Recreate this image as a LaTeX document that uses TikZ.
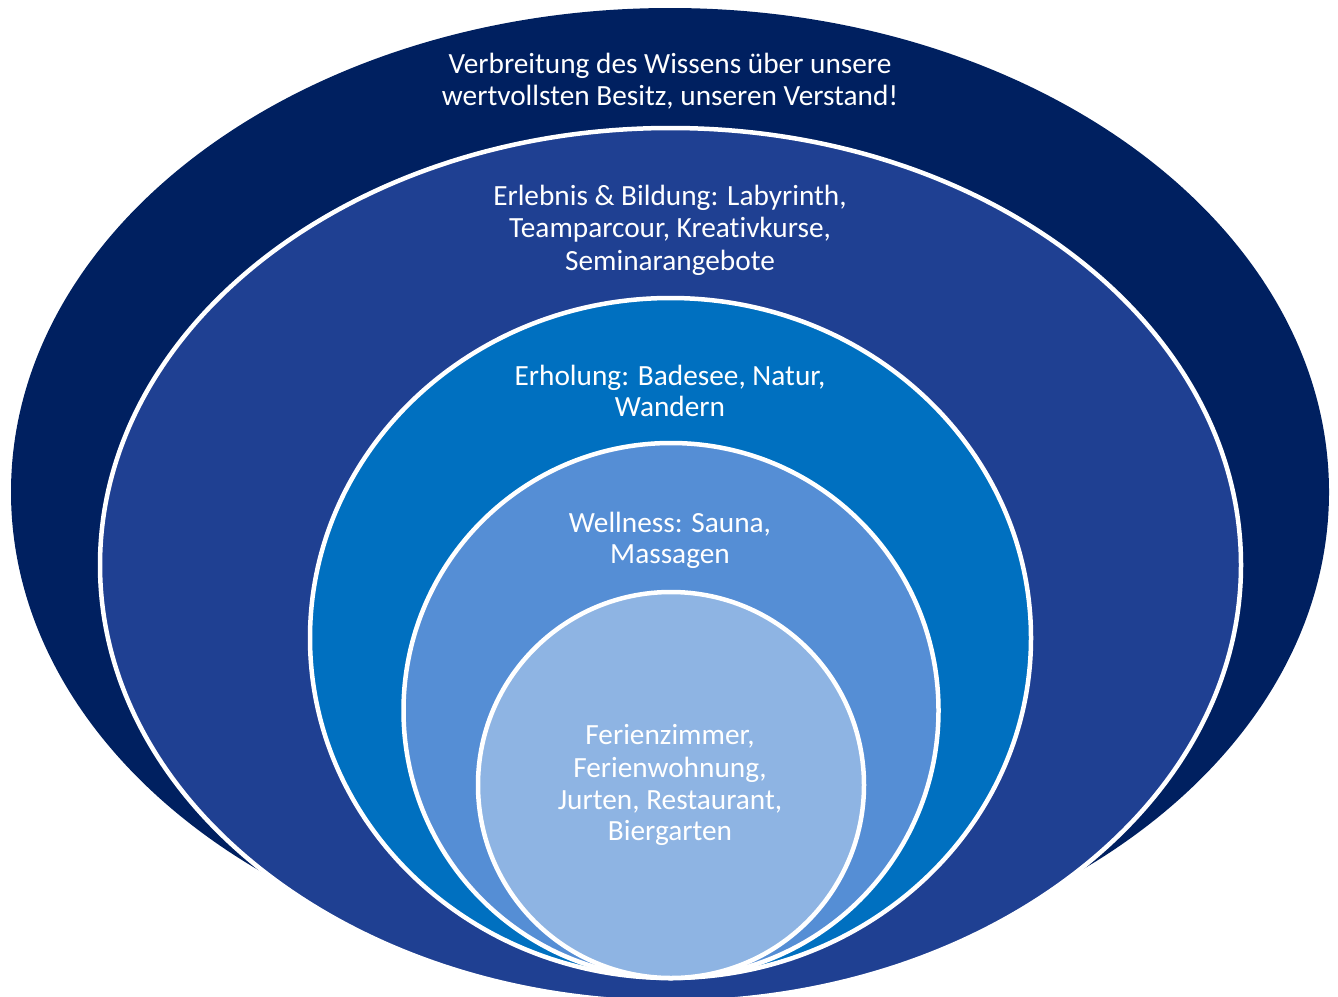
\documentclass[tikz,border=0pt]{standalone}
\usepackage{fontspec}
\setmainfont{Carlito}[Ligatures={NoCommon}]
\definecolor{cOne}{RGB}{0,32,96}
\definecolor{cTwo}{RGB}{31,64,146}
\definecolor{cThree}{RGB}{0,112,192}
\definecolor{cFour}{RGB}{85,142,213}
\definecolor{cFive}{RGB}{142,180,227}
\tikzset{
  ring/.style={draw=white, line width=4.5pt},
  lbl/.style={anchor=base, text=white, inner sep=0pt, font=\fontsize{29.3}{32}\selectfont}
}
\begin{document}
\begin{tikzpicture}[x=1pt,y=-1pt]
\useasboundingbox (0,0) rectangle (1338,996);
\clip (0,0) rectangle (1338,996);
\fill[cOne] (670,492) ellipse [x radius=659pt, y radius=484pt];
\draw[ring, fill=cTwo] (670.5,565) ellipse [x radius=570.5pt, y radius=437pt];
\draw[ring, fill=cThree] (670.5,638) ellipse [x radius=360.5pt, y radius=340pt];
\draw[ring, fill=cFour] (671,710.5) ellipse [x radius=267.5pt, y radius=267.5pt];
\draw[ring, fill=cFive] (671,785) ellipse [x radius=193pt, y radius=193pt];
\node[lbl] (a1) at (670,73) {Verbreitung des Wissens über unsere};
\node[lbl] (a2) at (670,105) {wertvollsten Besitz, unseren Verstand!};
\node[lbl] (b1) at (670,205) {Erlebnis \& Bildung: Labyrinth,};
\node[lbl] (b2) at (670,237) {Teamparcour, Kreat\kern0pt ivkurse,};
\node[lbl] (b3) at (670,270) {Seminarangebote};
\node[lbl] (c1) at (670,385) {Erholung: Badesee, Natur,};
\node[lbl] (c2) at (670,416) {Wandern};
\node[lbl] (d1) at (670,532) {Wellness: Sauna,};
\node[lbl] (d2) at (670,563) {Massagen};
\node[lbl] (e1) at (670,744) {Ferienzimmer,};
\node[lbl] (e2) at (670,777) {Ferienwohnung,};
\node[lbl] (e3) at (670,809) {Jurten, Restaurant,};
\node[lbl] (e4) at (670,840) {Biergarten};
\end{tikzpicture}
\end{document}
